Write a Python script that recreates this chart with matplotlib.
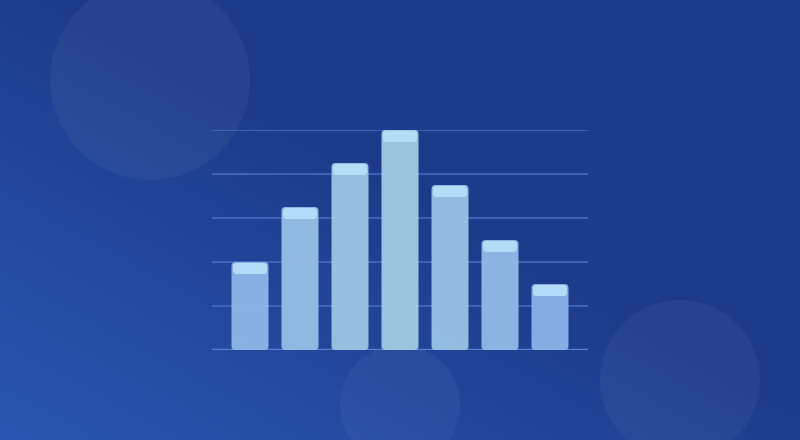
import numpy as np
import matplotlib
matplotlib.use("Agg")
import matplotlib.pyplot as plt
from matplotlib.patches import FancyBboxPatch, Circle
from matplotlib.colors import LinearSegmentedColormap, to_rgb

# data
categories = ["1", "2", "3", "4", "5", "6", "7"]
values     = [40, 65, 85, 100, 75, 50, 30]
y_ticks    = [0, 20, 40, 60, 80, 100]

W, H = 800, 440
fig = plt.figure(figsize=(W / 100, H / 100), dpi=100)

# ── background gradient + soft circles ──
bg = fig.add_axes([0, 0, 1, 1], zorder=0)
bg.set_xlim(0, W)
bg.set_ylim(0, H)
bg.axis("off")

xx, yy = np.meshgrid(np.linspace(0, 1, 400), np.linspace(0, 1, 220))
s = np.clip((xx + yy) / 1.1, 0, 1)          # 0 at bottom-left
light = np.array(to_rgb("#2a57b2"))
dark  = np.array(to_rgb("#1e3a8a"))
img = light[None, None, :] * (1 - s[..., None]) + dark[None, None, :] * s[..., None]
bg.imshow(img, extent=(0, W, 0, H), origin="lower", aspect="auto")

for cx, cy, r in [(150, H - 80, 100), (680, H - 380, 80), (400, H - 405, 60)]:
    bg.add_patch(Circle((cx, cy), r, color="white", alpha=0.045, lw=0))

# ── bar chart ──
ax = fig.add_axes([212 / W, (H - 350) / H, 376 / W, 220 / H], zorder=1)
ax.set_facecolor("none")
ax.set_xlim(-0.76, len(values) - 1 + 0.76)
ax.set_ylim(0, 100)
for sp in ax.spines.values():
    sp.set_visible(False)
ax.set_xticks([])
ax.set_yticks([])

for t in y_ticks[1:]:
    ax.axhline(t, color="#4a6ec4", lw=1.1, zorder=1)
ax.axhline(0, color="#5a80d4", lw=2.5, zorder=1)

px_x = 376 / (ax.get_xlim()[1] - ax.get_xlim()[0])   # pixels per x unit
px_y = 220 / 100                                      # pixels per y unit
aspect = px_x / px_y

bar_w = 0.74
cmap = LinearSegmentedColormap.from_list("bars", ["#8cb4e8", "#a4cae3"])
vmin, vmax = min(values), max(values)

for i, v in enumerate(values):
    col = cmap((v - vmin) / (vmax - vmin))
    body = FancyBboxPatch((i - bar_w / 2, 0), bar_w, v,
                          boxstyle="round,pad=0,rounding_size=0.08",
                          mutation_aspect=aspect,
                          fc=col, ec="none", alpha=0.95, zorder=2)
    ax.add_patch(body)
    cap_h = 12 / px_y
    inset = 1.5 / px_x
    cap = FancyBboxPatch((i - bar_w / 2 + inset, v - cap_h), bar_w - 2 * inset,
                         cap_h - 1 / px_y,
                         boxstyle="round,pad=0,rounding_size=0.07",
                         mutation_aspect=aspect,
                         fc="#b8defa", ec="none", alpha=0.95, zorder=3)
    ax.add_patch(cap)

fig.savefig("out.png", dpi=100)
